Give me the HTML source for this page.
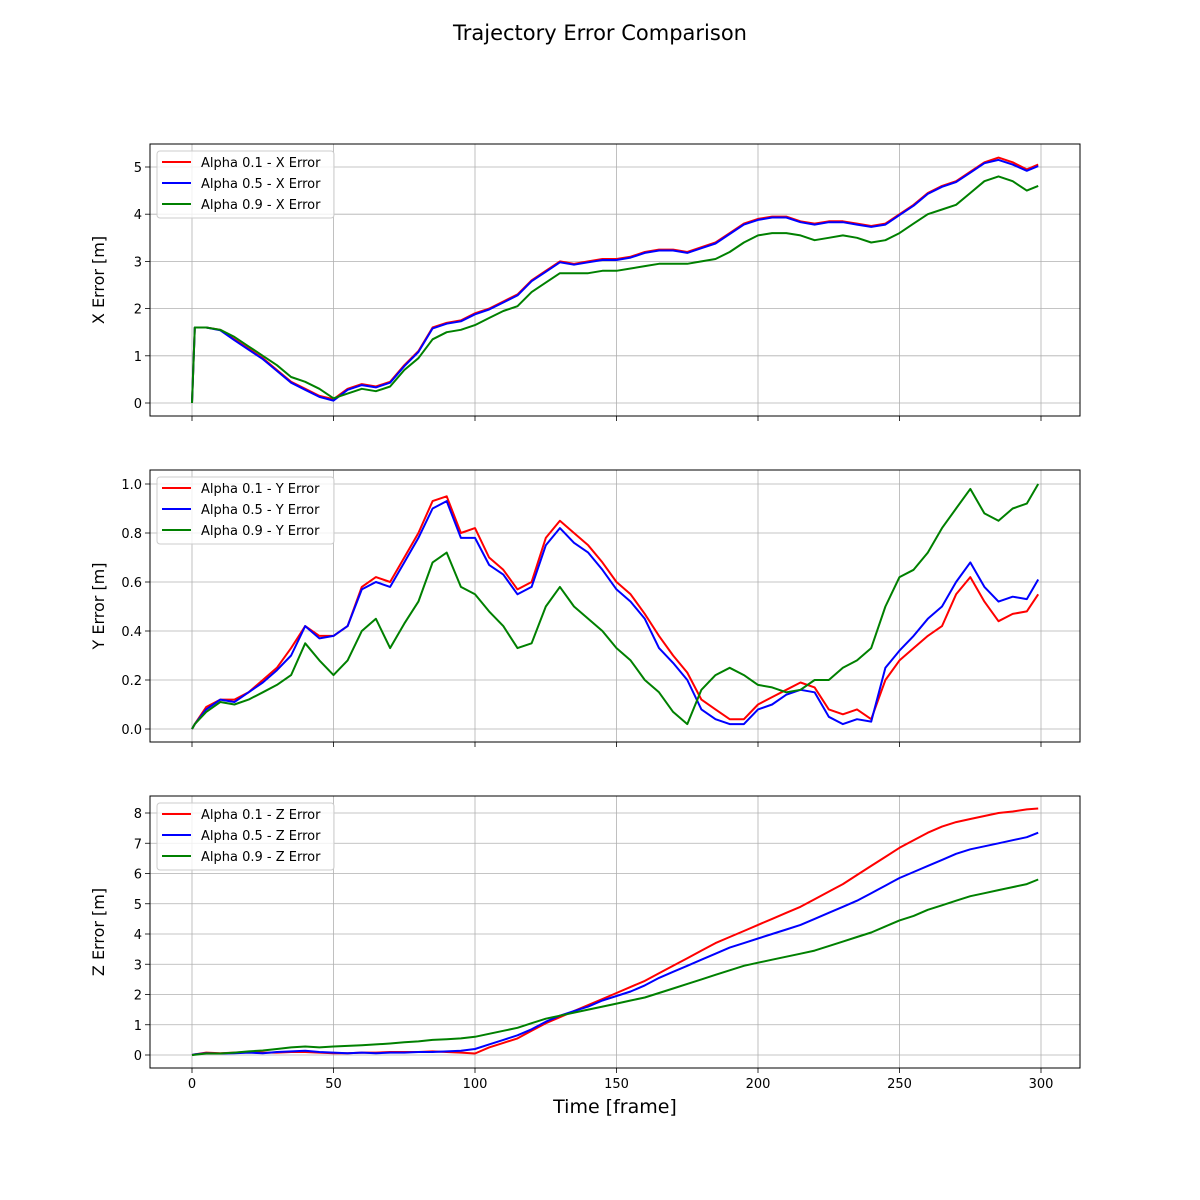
<!DOCTYPE html>
<html><head><meta charset="utf-8"><style>
body{margin:0;background:#fff;}
svg{display:block;font-family:"DejaVu Sans","Liberation Sans",sans-serif;}
</style></head><body>
<svg id="chart" width="1200" height="1200" viewBox="0 0 1200 1200">
<rect width="1200" height="1200" fill="#fff"/>
<text x="600" y="40" text-anchor="middle" font-size="21">Trajectory Error Comparison</text>
<text x="615" y="1113" text-anchor="middle" font-size="19">Time [frame]</text>
</svg>
<script>
const frames=[0,1,5,10,15,20,25,30,35,40,45,50,55,60,65,70,75,80,85,90,95,100,105,110,115,120,125,130,135,140,145,150,155,160,165,170,175,180,185,190,195,200,205,210,215,220,225,230,235,240,245,250,255,260,265,270,275,280,285,290,295,299];
const xTicks=[0,50,100,150,200,250,300];
const xA1=[0,1.6,1.6,1.55,1.35,1.15,0.95,0.7,0.45,0.3,0.15,0.08,0.3,0.4,0.35,0.45,0.8,1.1,1.6,1.7,1.75,1.9,2.0,2.15,2.3,2.6,2.8,3.0,2.95,3.0,3.05,3.05,3.1,3.2,3.25,3.25,3.2,3.3,3.4,3.6,3.8,3.9,3.95,3.95,3.85,3.8,3.85,3.85,3.8,3.75,3.8,4.0,4.2,4.45,4.6,4.7,4.9,5.1,5.2,5.1,4.95,5.05];
const xA5=[0,1.6,1.6,1.54,1.33,1.13,0.93,0.68,0.43,0.28,0.13,0.05,0.28,0.38,0.33,0.43,0.78,1.08,1.58,1.68,1.73,1.88,1.98,2.13,2.28,2.58,2.78,2.98,2.93,2.98,3.03,3.03,3.08,3.18,3.23,3.23,3.18,3.28,3.38,3.58,3.78,3.88,3.93,3.93,3.83,3.78,3.83,3.83,3.78,3.73,3.78,3.98,4.18,4.43,4.58,4.68,4.88,5.08,5.15,5.05,4.92,5.02];
const xA9=[0,1.6,1.6,1.55,1.4,1.2,1.0,0.8,0.55,0.45,0.3,0.1,0.2,0.3,0.25,0.35,0.7,0.95,1.35,1.5,1.55,1.65,1.8,1.95,2.05,2.35,2.55,2.75,2.75,2.75,2.8,2.8,2.85,2.9,2.95,2.95,2.95,3.0,3.05,3.2,3.4,3.55,3.6,3.6,3.55,3.45,3.5,3.55,3.5,3.4,3.45,3.6,3.8,4.0,4.1,4.2,4.45,4.7,4.8,4.7,4.5,4.6];
const yA1=[0,0.02,0.09,0.12,0.12,0.15,0.2,0.25,0.33,0.42,0.38,0.38,0.42,0.58,0.62,0.6,0.7,0.8,0.93,0.95,0.8,0.82,0.7,0.65,0.57,0.6,0.78,0.85,0.8,0.75,0.68,0.6,0.55,0.47,0.38,0.3,0.23,0.12,0.08,0.04,0.04,0.1,0.13,0.16,0.19,0.17,0.08,0.06,0.08,0.04,0.2,0.28,0.33,0.38,0.42,0.55,0.62,0.52,0.44,0.47,0.48,0.55];
const yA5=[0,0.02,0.08,0.12,0.11,0.15,0.19,0.24,0.3,0.42,0.37,0.38,0.42,0.57,0.6,0.58,0.68,0.78,0.9,0.93,0.78,0.78,0.67,0.63,0.55,0.58,0.75,0.82,0.76,0.72,0.65,0.57,0.52,0.45,0.33,0.27,0.2,0.08,0.04,0.02,0.02,0.08,0.1,0.14,0.16,0.15,0.05,0.02,0.04,0.03,0.25,0.32,0.38,0.45,0.5,0.6,0.68,0.58,0.52,0.54,0.53,0.61];
const yA9=[0,0.02,0.07,0.11,0.1,0.12,0.15,0.18,0.22,0.35,0.28,0.22,0.28,0.4,0.45,0.33,0.43,0.52,0.68,0.72,0.58,0.55,0.48,0.42,0.33,0.35,0.5,0.58,0.5,0.45,0.4,0.33,0.28,0.2,0.15,0.07,0.02,0.16,0.22,0.25,0.22,0.18,0.17,0.15,0.16,0.2,0.2,0.25,0.28,0.33,0.5,0.62,0.65,0.72,0.82,0.9,0.98,0.88,0.85,0.9,0.92,1.0];
const zA1=[0,0.02,0.08,0.06,0.08,0.1,0.08,0.08,0.1,0.1,0.08,0.06,0.06,0.08,0.08,0.1,0.1,0.1,0.12,0.1,0.08,0.05,0.25,0.4,0.55,0.8,1.05,1.25,1.45,1.65,1.85,2.05,2.25,2.45,2.7,2.95,3.2,3.45,3.7,3.9,4.1,4.3,4.5,4.7,4.9,5.15,5.4,5.65,5.95,6.25,6.55,6.85,7.1,7.35,7.55,7.7,7.8,7.9,8.0,8.05,8.12,8.15];
const zA5=[0,0.02,0.06,0.05,0.06,0.08,0.06,0.1,0.12,0.14,0.1,0.08,0.06,0.08,0.06,0.08,0.08,0.1,0.1,0.12,0.14,0.2,0.35,0.5,0.65,0.85,1.1,1.3,1.45,1.6,1.8,1.95,2.1,2.3,2.55,2.75,2.95,3.15,3.35,3.55,3.7,3.85,4.0,4.15,4.3,4.5,4.7,4.9,5.1,5.35,5.6,5.85,6.05,6.25,6.45,6.65,6.8,6.9,7.0,7.1,7.2,7.35];
const zA9=[0,0.01,0.05,0.05,0.08,0.12,0.15,0.2,0.25,0.28,0.25,0.28,0.3,0.32,0.35,0.38,0.42,0.45,0.5,0.52,0.55,0.6,0.7,0.8,0.9,1.05,1.2,1.3,1.4,1.5,1.6,1.7,1.8,1.9,2.05,2.2,2.35,2.5,2.65,2.8,2.95,3.05,3.15,3.25,3.35,3.45,3.6,3.75,3.9,4.05,4.25,4.45,4.6,4.8,4.95,5.1,5.25,5.35,5.45,5.55,5.65,5.8];
const xYTicks=[0,1,2,3,4,5];
const yYTicks=[0,0.2,0.4,0.6,0.8,1.0];
const zYTicks=[0,1,2,3,4,5,6,7,8];
const colors=['#ff0000','#0000ff','#008000'];
const alphas=['0.1','0.5','0.9'];

const NS='http://www.w3.org/2000/svg';
const svg=document.getElementById('chart');
function mk(tag,attrs,parent){const e=document.createElementNS(NS,tag);for(const k in attrs)e.setAttribute(k,attrs[k]);(parent||svg).appendChild(e);return e;}
const L=150,R=1080;
function xScale(f){return 192+(f-0)*(1041-192)/300;}

function panel(key,top,bot,y0px,ymaxPx,ymax,yTicks,fmt,series,label,showXLabels){
  const g=mk('g',{});
  
  
  const ys=v=>y0px+(ymaxPx-y0px)*v/ymax;
  xTicks.forEach(t=>{
    const gl=mk('line',{x1:xScale(t),x2:xScale(t),y1:top,y2:bot,stroke:'#b0b0b0','stroke-width':0.8},g);
    
    mk('line',{x1:xScale(t),x2:xScale(t),y1:bot,y2:bot+5,stroke:'#000','stroke-width':0.8},g);
    if(showXLabels){const tx=mk('text',{x:xScale(t),y:bot+20,'text-anchor':'middle','font-size':13},g);tx.textContent=t;
      }
  });
  yTicks.forEach(t=>{
    const y=ys(t);
    const gl=mk('line',{x1:L,x2:R,y1:y,y2:y,stroke:'#b0b0b0','stroke-width':0.8},g);
    
    mk('line',{x1:L-5,x2:L,y1:y,y2:y,stroke:'#000','stroke-width':0.8},g);
    const tx=mk('text',{x:L-8,y:y+5,'text-anchor':'end','font-size':13},g);tx.textContent=fmt(t);
    
  });
  series.forEach((s,i)=>{
    const d=frames.map((f,j)=>(j?'L':'M')+xScale(f).toFixed(1)+','+ys(s[j]).toFixed(1)).join('');
    const p=mk('path',{d:d,fill:'none',stroke:colors[i],'stroke-width':2,'stroke-linejoin':'round'},g);
    
    
  });
  const fr=mk('rect',{x:L,y:top,width:R-L,height:bot-top,fill:'none',stroke:'#000','stroke-width':1},g);
  
  const yl=mk('text',{x:0,y:0,'text-anchor':'middle','font-size':16,transform:`translate(104,${(top+bot)/2}) rotate(-90)`},g);
  yl.textContent=label;
  
  const lg=mk('g',{},g);
  
  mk('rect',{x:157,y:top+7,width:177,height:67,rx:3,fill:'#fff','fill-opacity':0.8,stroke:'#cccccc'},lg);
  alphas.forEach((a,i)=>{
    const yy=top+18+i*21;
    const ln=mk('line',{x1:162,x2:191,y1:yy,y2:yy,stroke:colors[i],'stroke-width':2},lg);
    
    const tx=mk('text',{x:201,y:yy+5,'font-size':13},lg);
    tx.textContent='Alpha '+a+' - '+key.toUpperCase()+' Error';
    
  });
}
panel('x',144,416,403,167,5,xYTicks,t=>t,[xA1,xA5,xA9],'X Error [m]',false);
panel('y',470,742,729,484,1.0,yYTicks,t=>t.toFixed(1),[yA1,yA5,yA9],'Y Error [m]',false);
panel('z',796,1068,1055,813,8,zYTicks,t=>t,[zA1,zA5,zA9],'Z Error [m]',true);
</script>
</body></html>
